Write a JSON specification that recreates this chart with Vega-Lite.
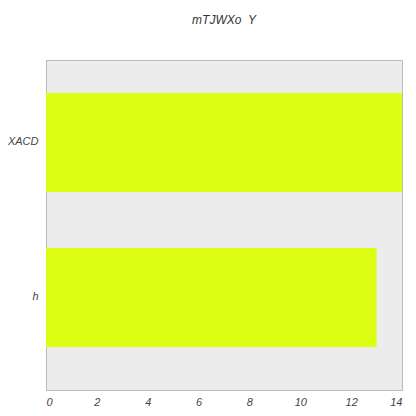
{
  "$schema": "https://vega.github.io/schema/vega-lite/v6.json",
  "width": 356,
  "height": 330,
  "autosize": "none",
  "padding": {"left": 46, "top": 60, "right": 14, "bottom": 26},
  "background": "white",
  "title": {"text": "mTJWXo\u00a0 Y", "font": "Liberation Sans", "fontSize": 12, "fontStyle": "italic", "fontWeight": "normal", "color": "#333333", "offset": 33},
  "config": {
    "view": {"fill": "#ececec", "stroke": "#bbbbbb", "strokeWidth": 1},
    "axis": {"labelFont": "Liberation Sans", "labelFontStyle": "italic", "labelFontSize": 11, "labelColor": "#444444", "ticks": false, "domain": false, "grid": false, "title": null}
  },
  "data": {"values": [
    {"category": "XACD", "value": 14},
    {"category": "h", "value": 13}
  ]},
  "mark": {"type": "bar", "color": "#dcff14"},
  "encoding": {
    "y": {"field": "category", "type": "nominal", "sort": null, "scale": {"paddingInner": 0.361, "paddingOuter": 0.245, "align": 0.434}, "axis": {"labelPadding": 8}},
    "x": {"field": "value", "type": "quantitative", "scale": {"domain": [0, 14], "nice": false}, "axis": {"values": [0, 2, 4, 6, 8, 10, 12, 14], "labelPadding": 6}}
  }
}
